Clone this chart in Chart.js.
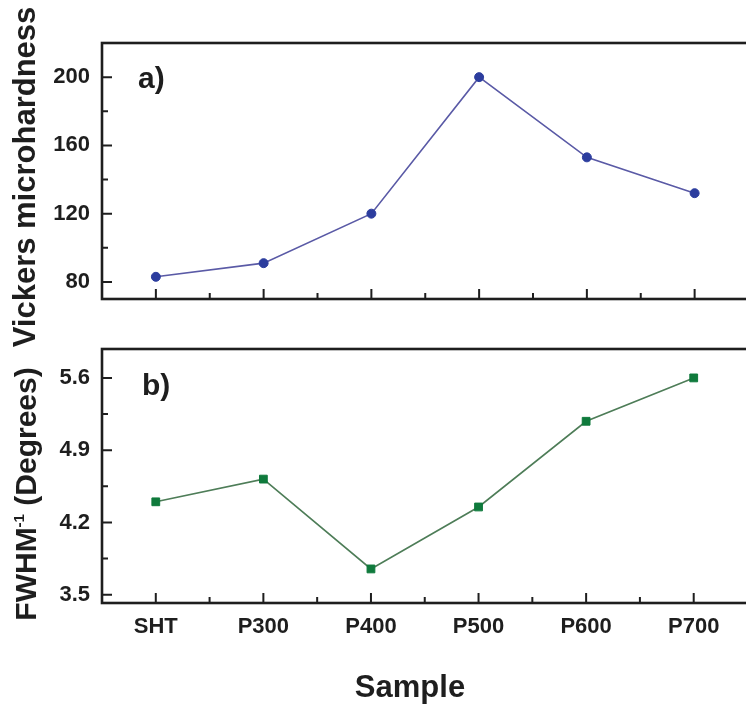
<!DOCTYPE html>
<html>
<head>
<meta charset="utf-8">
<script src="https://cdn.jsdelivr.net/npm/chart.js@4.4.1/dist/chart.umd.min.js"></script>
<style>
  html, body { margin: 0; padding: 0; background: #fff; }
  #wrap { position: relative; width: 746px; height: 710px; overflow: hidden; background: #fff; }
  #wrap canvas { position: absolute; left: 0; }
  #hardness { top: 0; }
  #fwhm { top: 320px; }
</style>
</head>
<body>
<div id="wrap">
  <canvas id="hardness" width="754" height="360"></canvas>
  <canvas id="fwhm" width="754" height="390"></canvas>
</div>
<script>
const samples = ["SHT", "P300", "P400", "P500", "P600", "P700"];
const hardness = [83, 91, 120, 200, 153, 132];
const fwhmInv = [4.40, 4.62, 3.75, 4.35, 5.18, 5.60];

const hardnessTicks = [80, 120, 160, 200];
const hardnessMinor = [100, 140, 180];
const fwhmTicks = [3.5, 4.2, 4.9, 5.6];
const fwhmMinor = [3.85, 4.55, 5.25];
const sampleMinor = [0.5, 1.5, 2.5, 3.5, 4.5];

const FONT = "'Liberation Sans', Arial, Helvetica, sans-serif";
const INK = "#1e1e1e";

Chart.defaults.font.family = FONT;
Chart.defaults.color = INK;

// draws a run of text pieces (each with its own font / rise) around a point
function drawParts(ctx, parts, x, y, rotation, align) {
  ctx.save();
  ctx.translate(x, y);
  ctx.rotate(rotation || 0);
  ctx.fillStyle = INK;
  ctx.textBaseline = "alphabetic";
  ctx.textAlign = "left";
  let total = 0;
  parts.forEach((p) => {
    ctx.font = p.font;
    total += ctx.measureText(p.text).width;
  });
  let cx = align === "left" ? 0 : -total / 2;
  parts.forEach((p) => {
    ctx.font = p.font;
    ctx.fillText(p.text, cx, -(p.rise || 0));
    cx += ctx.measureText(p.text).width;
  });
  ctx.restore();
}

// box frame with inward major/minor ticks
const framePlugin = {
  id: "frame",
  afterDraw(chart, args, opts) {
    const { ctx, chartArea: a, scales } = chart;
    ctx.save();
    ctx.strokeStyle = INK;
    ctx.lineWidth = 2;
    ctx.beginPath();
    opts.yMajor.forEach((v) => {
      const py = scales.y.getPixelForValue(v);
      ctx.moveTo(a.left, py); ctx.lineTo(a.left + 10, py);
    });
    opts.yMinor.forEach((v) => {
      const py = scales.y.getPixelForValue(v);
      ctx.moveTo(a.left, py); ctx.lineTo(a.left + 6, py);
    });
    samples.forEach((s, i) => {
      const px = scales.x.getPixelForValue(i);
      ctx.moveTo(px, a.bottom); ctx.lineTo(px, a.bottom - 10);
    });
    sampleMinor.forEach((v) => {
      const px = scales.x.getPixelForValue(v);
      ctx.moveTo(px, a.bottom); ctx.lineTo(px, a.bottom - 6);
    });
    ctx.stroke();
    ctx.lineWidth = 2.6;
    ctx.strokeRect(a.left, a.top, a.right - a.left, a.bottom - a.top);
    ctx.restore();
  }
};

// axis titles and panel letters
const captionPlugin = {
  id: "captions",
  afterDraw(chart, args, opts) {
    opts.items.forEach((it) => drawParts(chart.ctx, it.parts, it.x, it.y, it.rotation, it.align));
  }
};

const bold = (px) => "bold " + px + "px " + FONT;

// fixed axis box sizes, no extra room for half labels at the ends
function fixBox(s, size) {
  if (s.isHorizontal()) s.height = size; else s.width = size;
  s.paddingTop = 0;
  s.paddingBottom = 0;
  s.paddingLeft = 0;
  s.paddingRight = 0;
}

function panel(canvasId, cfg) {
  return new Chart(document.getElementById(canvasId), {
    type: "line",
    data: {
      labels: samples,
      datasets: [{
        data: cfg.values,
        borderColor: cfg.lineColor,
        borderWidth: 1.6,
        backgroundColor: cfg.markColor,
        pointBackgroundColor: cfg.markColor,
        pointBorderColor: cfg.markColor,
        pointBorderWidth: 1,
        pointStyle: cfg.pointStyle,
        pointRadius: cfg.pointRadius,
        tension: 0,
        fill: false
      }]
    },
    options: {
      responsive: false,
      animation: false,
      devicePixelRatio: 1,
      layout: { padding: { top: cfg.padTop, right: 2, left: 0, bottom: 0 } },
      scales: {
        x: {
          type: "category",
          offset: true,
          grid: { display: false, drawTicks: false },
          border: { display: false },
          ticks: {
            display: cfg.showX,
            autoSkip: false,
            maxRotation: 0,
            padding: 11,
            font: { size: 22, weight: "bold" },
            color: INK
          },
          afterFit: (s) => fixBox(s, cfg.xHeight)
        },
        y: {
          min: cfg.min,
          max: cfg.max,
          grid: { display: false, drawTicks: false },
          border: { display: false },
          afterBuildTicks: (s) => { s.ticks = cfg.ticks.map((v) => ({ value: v })); },
          ticks: {
            padding: 12,
            font: { size: 22, weight: "bold" },
            color: INK,
            callback: cfg.format
          },
          afterFit: (s) => fixBox(s, 102)
        }
      },
      plugins: {
        legend: { display: false },
        tooltip: { enabled: false },
        frame: { yMajor: cfg.ticks, yMinor: cfg.minor },
        captions: { items: cfg.captions }
      }
    },
    plugins: [framePlugin, captionPlugin]
  });
}

panel("hardness", {
  values: hardness,
  lineColor: "#5a5aa6",
  markColor: "#2c3d9e",
  pointStyle: "circle",
  pointRadius: 4.5,
  min: 70,
  max: 220,
  ticks: hardnessTicks,
  minor: hardnessMinor,
  format: (v) => String(v),
  padTop: 43,
  xHeight: 61,
  showX: false,
  captions: [
    { parts: [{ text: "Vickers microhardness", font: bold(31) }], x: 35, y: 177, rotation: -Math.PI / 2 },
    { parts: [{ text: "a)", font: bold(30) }], x: 138, y: 88, align: "left" }
  ]
});

panel("fwhm", {
  values: fwhmInv,
  lineColor: "#4e7d58",
  markColor: "#0f7a3c",
  pointStyle: "rect",
  pointRadius: 5.5,
  min: 3.42,
  max: 5.88,
  ticks: fwhmTicks,
  minor: fwhmMinor,
  format: (v) => v.toFixed(1),
  padTop: 29,
  xHeight: 107,
  showX: true,
  captions: [
    {
      parts: [
        { text: "FWHM", font: bold(30) },
        { text: "-1", font: bold(15), rise: 12 },
        { text: " (Degrees)", font: bold(30) }
      ],
      x: 36, y: 174, rotation: -Math.PI / 2
    },
    { parts: [{ text: "b)", font: bold(30) }], x: 142, y: 75, align: "left" },
    { parts: [{ text: "Sample", font: bold(31) }], x: 410, y: 377 }
  ]
});
</script>
</body>
</html>
